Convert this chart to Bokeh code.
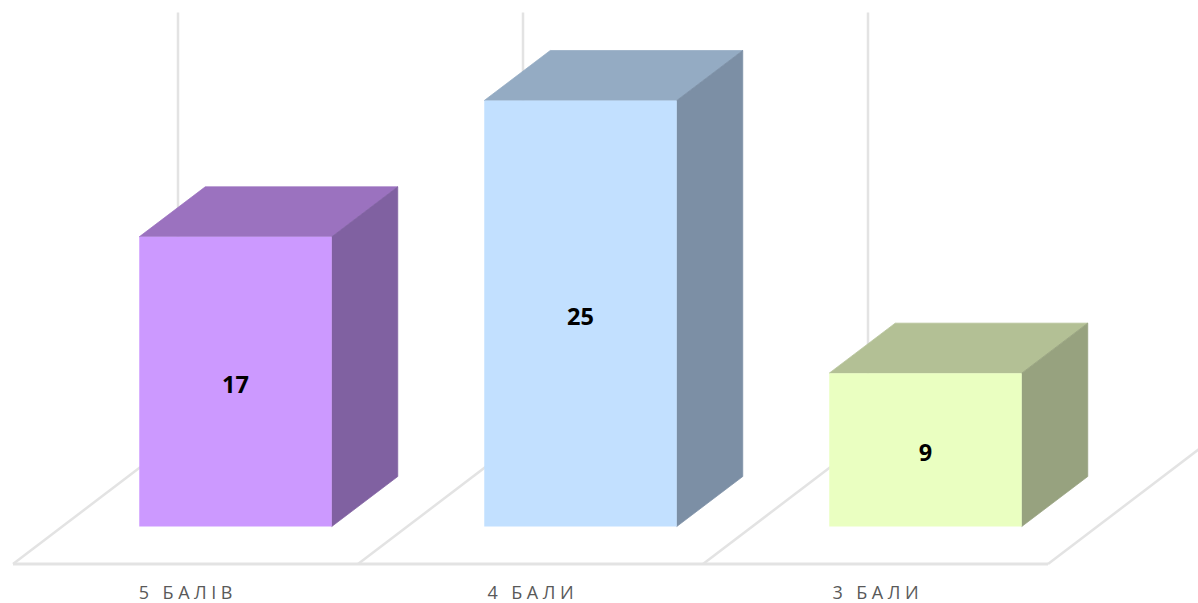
from bokeh.plotting import figure
from bokeh.embed import file_html
from bokeh.resources import INLINE
from bokeh.models import Range1d, FixedTicker
from bokeh.core.properties import value

labels = ["5\u2005 \u2005Б\u2005А\u2005Л\u2005І\u2005В", "4\u2005 \u2005Б\u2005А\u2005Л\u2005И", "3\u2005 \u2005Б\u2005А\u2005Л\u2005И"]
values = [17, 25, 9]
front_colors = ["#CC99FF", "#C2E0FF", "#EAFFC1"]
top_colors = ["#9B72BF", "#94ABC3", "#B3C095"]
side_colors = ["#8061A1", "#7C8FA5", "#97A27F"]
axis_max = 25

W, H = 1198, 603
X0, UX = 185.0, 345.0      # pixel of category 0, pixels per category
Y0, UY = 526.0, 17.04      # pixel of value 0, pixels per unit
BAR_SHIFT = 50.0 / UX
BAR_W = 192.5 / UX
DX, DY = 66 / UX, 50 / UY  # bar depth
FLOOR_FRONT = (Y0 - 563.5) / UY
FDX, FDY = 165 / UX, 125.5 / UY  # floor depth
GRID = "#E3E3E3"

p = figure(width=W, height=H, output_backend="svg", toolbar_location=None,
           x_range=Range1d((0 - X0) / UX, (W - X0) / UX),
           y_range=Range1d((Y0 - H) / UY, Y0 / UY),
           min_border_left=0, min_border_right=0, min_border_top=0, min_border_bottom=0,
           outline_line_color=None, background_fill_color="white", border_fill_color="white")
p.styles = {"position": "absolute", "left": "0px", "top": "0px"}
p.grid.visible = False
p.yaxis.visible = False

ax = p.xaxis[0]
ax.fixed_location = FLOOR_FRONT
ax.ticker = FixedTicker(ticks=list(range(len(labels))))
ax.major_label_overrides = {i: s for i, s in enumerate(labels)}
ax.axis_line_color = None
ax.major_tick_line_color = None
ax.minor_tick_line_color = None
ax.major_tick_out = 0
ax.major_tick_in = 0
ax.major_label_text_font = "Open Sans"
ax.major_label_text_font_size = "18px"
ax.major_label_text_color = "#595959"
ax.major_label_standoff = 16

n = len(values)
# floor
p.line([-0.5, n - 0.5], [FLOOR_FRONT] * 2, line_color=GRID, line_width=3)
for i in range(n + 1):
    xs = i - 0.5
    p.line([xs, xs + FDX], [FLOOR_FRONT, FLOOR_FRONT + FDY], line_color=GRID, line_width=2.5)
# back wall verticals
for i in range(n):
    xs = i - 0.5 + FDX
    p.line([xs, xs], [FLOOR_FRONT + FDY, FLOOR_FRONT + FDY + axis_max], line_color=GRID, line_width=2.5)

# bars
for i, v in enumerate(values):
    l = i + BAR_SHIFT - BAR_W / 2
    r = i + BAR_SHIFT + BAR_W / 2
    p.patch([l, r, r + DX, l + DX], [v, v, v + DY, v + DY], fill_color=top_colors[i],
            line_color=top_colors[i], line_width=0.75)
    p.patch([r, r + DX, r + DX, r], [0, DY, v + DY, v], fill_color=side_colors[i],
            line_color=side_colors[i], line_width=0.75)
    p.vbar(x=[i + BAR_SHIFT], width=BAR_W, bottom=0, top=[v], fill_color=front_colors[i], line_color=None)
    p.text([i + BAR_SHIFT], [v / 2], text=[str(v)], text_align="center", text_baseline="middle",
           text_font=value("Open Sans"), text_font_style="bold", text_font_size="23.5px",
           text_color="black", y_offset=3)

open("out.html", "w").write(file_html(p, INLINE))
